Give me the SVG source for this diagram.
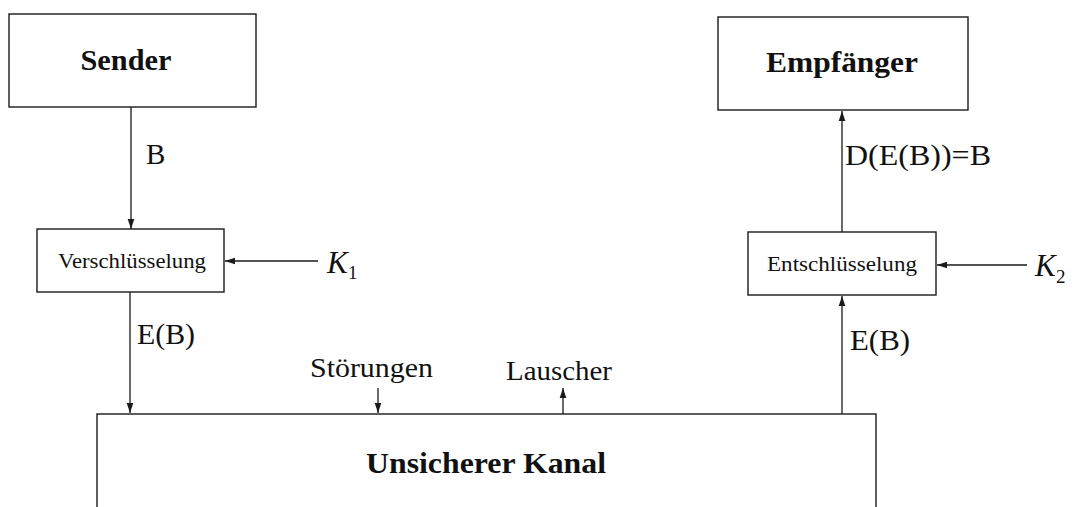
<svg xmlns="http://www.w3.org/2000/svg" width="1075" height="507" viewBox="0 0 1075 507">
  <style>
    .box { fill: #ffffff; stroke: #1a1a1a; stroke-width: 1.4; }
    .edge { fill: none; stroke: #1a1a1a; stroke-width: 1.3; marker-end: url(#arrow); }
    .title { font-family: "Liberation Serif", "Times New Roman", serif; font-weight: bold; font-size: 30px; fill: #111; }
    .proc { font-family: "Liberation Serif", "Times New Roman", serif; font-size: 22px; fill: #111; }
    .lbl { font-family: "Liberation Serif", "Times New Roman", serif; font-size: 29px; fill: #111; }
    .note { font-family: "Liberation Serif", "Times New Roman", serif; font-size: 27px; fill: #111; }
    .key { font-family: "Liberation Serif", "Times New Roman", serif; font-style: italic; font-size: 31px; fill: #111; }
    .sub { font-family: "Liberation Serif", "Times New Roman", serif; font-size: 19px; fill: #111; }
  </style>
  <defs>
    <marker id="arrow" markerUnits="userSpaceOnUse" markerWidth="11" markerHeight="9" refX="10" refY="4" orient="auto">
      <path d="M0,0.7 L10,4 L0,7.3 z" fill="#1a1a1a"/>
    </marker>
  </defs>
  <rect width="1075" height="507" fill="#ffffff"/>

  <g id="sender">
    <rect class="box" x="9" y="14" width="247" height="93"/>
    <text class="title" x="126" y="70" text-anchor="middle" textLength="91" lengthAdjust="spacingAndGlyphs">Sender</text>
  </g>

  <g id="verschluesselung">
    <rect class="box" x="37" y="229" width="187" height="63"/>
    <text class="proc" x="132" y="268" text-anchor="middle" textLength="148" lengthAdjust="spacingAndGlyphs">Verschlüsselung</text>
  </g>

  <g id="key1">
    <text class="key" x="327" y="273">K</text>
    <text class="sub" x="348" y="279">1</text>
  </g>

  <g id="empfaenger">
    <rect class="box" x="718" y="17" width="250" height="93"/>
    <text class="title" x="842" y="72" text-anchor="middle" textLength="152" lengthAdjust="spacingAndGlyphs">Empfänger</text>
  </g>

  <g id="entschluesselung">
    <rect class="box" x="748" y="232" width="188" height="63"/>
    <text class="proc" x="842" y="271" text-anchor="middle" textLength="150" lengthAdjust="spacingAndGlyphs">Entschlüsselung</text>
  </g>

  <g id="key2">
    <text class="key" x="1035" y="276">K</text>
    <text class="sub" x="1056" y="283">2</text>
  </g>

  <g id="kanal">
    <rect class="box" x="97" y="414" width="779" height="140"/>
    <text class="title" x="486" y="473" text-anchor="middle" textLength="240" lengthAdjust="spacingAndGlyphs">Unsicherer Kanal</text>
  </g>

  <g id="connectors">
    <line class="edge" x1="131" y1="107" x2="131" y2="229"/>
    <line class="edge" x1="318" y1="261" x2="225" y2="261"/>
    <line class="edge" x1="130" y1="292" x2="130" y2="413"/>
    <line class="edge" x1="378" y1="388" x2="378" y2="413"/>
    <line class="edge" x1="563" y1="414" x2="563" y2="388"/>
    <line class="edge" x1="842" y1="414" x2="842" y2="296"/>
    <line class="edge" x1="1027" y1="265" x2="937" y2="265"/>
    <line class="edge" x1="842" y1="232" x2="842" y2="111"/>
  </g>

  <g id="labels">
    <text class="lbl" x="146" y="164">B</text>
    <text class="lbl" x="137" y="344" textLength="58" lengthAdjust="spacingAndGlyphs">E(B)</text>
    <text class="note" x="310" y="377" textLength="123" lengthAdjust="spacingAndGlyphs">Störungen</text>
    <text class="note" x="506" y="380" textLength="106" lengthAdjust="spacingAndGlyphs">Lauscher</text>
    <text class="lbl" x="850" y="350" textLength="60" lengthAdjust="spacingAndGlyphs">E(B)</text>
    <text class="lbl" x="845" y="165" textLength="146" lengthAdjust="spacingAndGlyphs">D(E(B))=B</text>
  </g>
</svg>
